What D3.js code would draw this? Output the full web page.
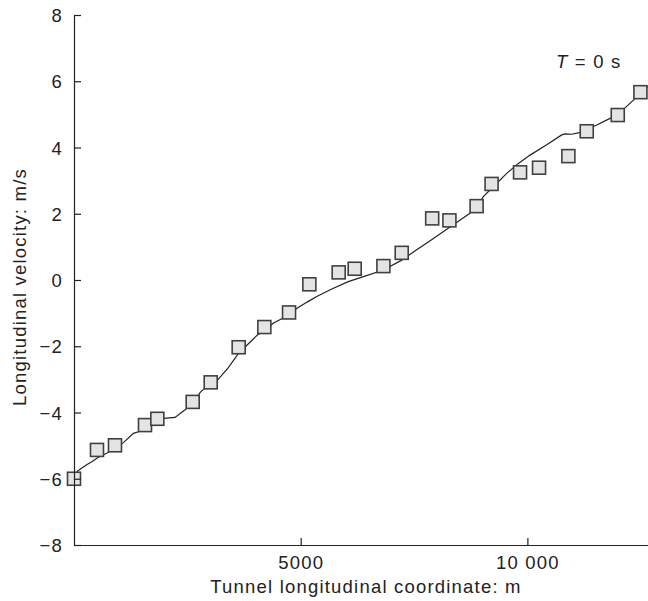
<!DOCTYPE html>
<html>
<head>
<meta charset="utf-8">
<script src="https://cdn.jsdelivr.net/npm/d3@7"></script>
<style>
  html, body { margin: 0; padding: 0; background: #fff; }
  svg { display: block; }
  text { font-family: "Liberation Sans", Arial, Helvetica, sans-serif; fill: #222; }
</style>
</head>
<body>
<svg id="chart" width="648" height="601"></svg>
<script>
// Measured longitudinal velocity along the tunnel (squares)
const measX = [0, 507, 904, 1566, 1838, 2618, 3015, 3632, 4198, 4743, 5191, 5838, 6191, 6824, 7228,
               7900, 8280, 8880, 9210, 9838, 10257, 10904, 11309, 11993, 12493];
const measV = [-6.0, -5.13, -4.99, -4.38, -4.19, -3.68, -3.09, -2.03, -1.42, -0.98, -0.13, 0.23, 0.34, 0.42, 0.82,
               1.86, 1.80, 2.23, 2.90, 3.25, 3.39, 3.74, 4.49, 4.98, 5.67];

// Computed velocity profile (solid line)
const simX = [60, 150, 280, 400, 537, 720, 900, 1090, 1310, 1420, 1566, 1700, 1971, 2228, 2450, 2618, 2780,
              3000, 3147, 3400, 3632, 4044, 4198, 4400, 4743, 4912, 5150, 5353, 5721, 6050, 6383, 6824, 7228,
              7559, 7935, 8302, 8725, 8908, 9029, 9324, 9544, 9801, 10059, 10426, 10757, 10831, 10978, 11147,
              11529, 11824, 12000, 12338, 12493, 12660];
const simV = [-5.79, -5.70, -5.58, -5.48, -5.35, -5.23, -5.08, -4.91, -4.63, -4.58, -4.42, -4.30, -4.18, -4.15,
              -3.92, -3.72, -3.40, -3.12, -3.05, -2.65, -2.21, -1.66, -1.53, -1.30, -1.06, -0.86, -0.66, -0.50,
              -0.25, -0.05, 0.10, 0.30, 0.60, 0.91, 1.26, 1.61, 2.01, 2.25, 2.52, 2.92, 3.22, 3.52, 3.77, 4.08,
              4.38, 4.41, 4.40, 4.45, 4.68, 4.88, 5.00, 5.43, 5.64, 5.85];

// Axis ticks
const xTickValues = [5000, 10000];
const xTickLabels = ["5000", "10 000"];
const yTickValues = [-8, -6, -4, -2, 0, 2, 4, 6, 8];
const yTickLabels = ["\u22128", "\u22126", "\u22124", "\u22122", "0", "2", "4", "6", "8"];

const svg = d3.select("#chart");
const plotLeft = 74, plotRight = 648, plotTop = 15, plotBottom = 545;

const x = d3.scaleLinear().domain([0, 12660]).range([plotLeft, plotRight]);
const y = d3.scaleLinear().domain([-8, 8]).range([plotBottom, plotTop]);

const fontSize = "18.5px";
const spacing = "1.2px";

// Simulation line
const line = d3.line().x((d, i) => x(simX[i])).y((d, i) => y(simV[i]));
svg.append("path")
  .datum(simX)
  .attr("d", line)
  .attr("fill", "none")
  .attr("stroke", "#222")
  .attr("stroke-width", 1.2);

// Measured points
const sq = 13;
svg.append("g").selectAll("rect")
  .data(measX)
  .join("rect")
  .attr("x", (d) => x(d) - sq / 2)
  .attr("y", (d, i) => y(measV[i]) - sq / 2)
  .attr("width", sq)
  .attr("height", sq)
  .attr("fill", "#e4e4e4")
  .attr("stroke", "#404040")
  .attr("stroke-width", 1.6);

// X axis (ticks pointing into the plot)
const xAxis = d3.axisBottom(x)
  .tickValues(xTickValues)
  .tickFormat((d, i) => xTickLabels[i])
  .tickSizeInner(-7)
  .tickSizeOuter(0)
  .tickPadding(11);
const gx = svg.append("g").attr("transform", `translate(0,${plotBottom})`).call(xAxis);

// Y axis (ticks pointing into the plot)
const yAxis = d3.axisLeft(y)
  .tickValues(yTickValues)
  .tickFormat((d, i) => yTickLabels[i])
  .tickSizeInner(-7)
  .tickSizeOuter(0)
  .tickPadding(11);
const gy = svg.append("g").attr("transform", `translate(${plotLeft},0)`).call(yAxis);

[gx, gy].forEach((g) => {
  g.select(".domain").attr("stroke", "#222").attr("stroke-width", 1.2);
  g.selectAll(".tick line").attr("stroke", "#222").attr("stroke-width", 1.2);
  g.selectAll(".tick text")
    .attr("font-family", "Liberation Sans, Arial, sans-serif")
    .attr("font-size", fontSize)
    .style("letter-spacing", spacing)
    .attr("fill", "#222");
});
gy.selectAll(".tick text").attr("dy", "0.36em");

// Axis titles
svg.append("text")
  .attr("x", (plotLeft + plotRight) / 2 + 5)
  .attr("y", 593)
  .attr("text-anchor", "middle")
  .attr("font-size", fontSize)
  .style("letter-spacing", spacing)
  .text("Tunnel longitudinal coordinate: m");

svg.append("text")
  .attr("transform", "translate(26,287) rotate(-90)")
  .attr("text-anchor", "middle")
  .attr("font-size", fontSize)
  .style("letter-spacing", spacing)
  .text("Longitudinal velocity: m/s");

// Time annotation
const ann = svg.append("text")
  .attr("x", 556)
  .attr("y", 68)
  .attr("font-size", fontSize)
  .style("letter-spacing", spacing);
ann.append("tspan").attr("font-style", "italic").text("T");
ann.append("tspan").text(" = 0 s");
</script>
</body>
</html>
